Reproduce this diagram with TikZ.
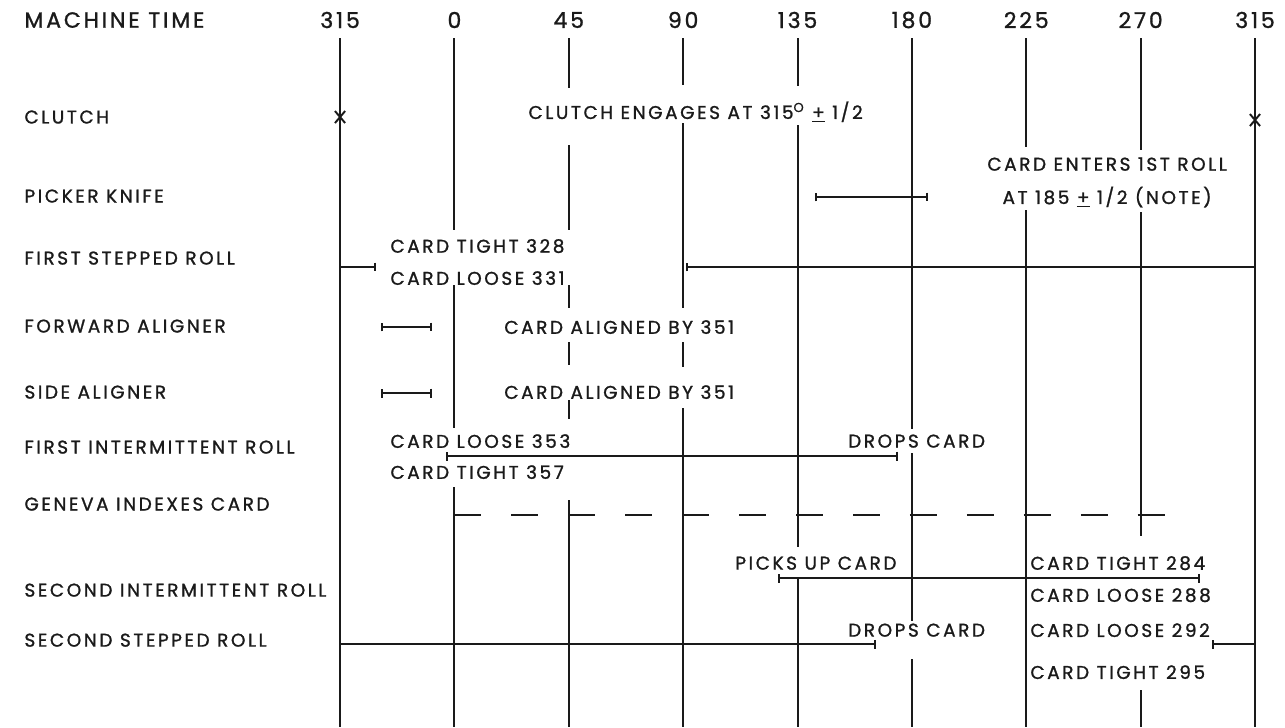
\documentclass[tikz,border=0pt]{standalone}
\usepackage{fontspec}
\setmainfont{Poppins}
\newfontfamily\chartfont[LetterSpace=14, FakeBold=1.2]{Poppins}
\newfontfamily\headfont[LetterSpace=13, FakeBold=1.2]{Poppins}
\usetikzlibrary{arrows.meta}
\definecolor{inkBlack}{HTML}{1A1A1A}

\begin{document}
\begin{tikzpicture}[
    x=0.050833cm, y=-0.02cm,
    rowlabel/.style={anchor=west, inner sep=0pt, text=inkBlack, font=\chartfont\fontsize{10.5}{12}\selectfont},
    note/.style={anchor=west, inner sep=0pt, text=inkBlack, font=\chartfont\fontsize{10.5}{12}\selectfont},
    hdr/.style={inner sep=0pt, text=inkBlack, font=\headfont\fontsize{12.5}{14}\selectfont},
    grid/.style={line width=1.1pt, inkBlack},
    bar/.style={line width=1.1pt, inkBlack},
    tick/.style={{Bar[width=5pt]}-{Bar[width=5pt]}},
]
    \useasboundingbox (-178.8,0) rectangle (326.8,727);

    % header
    \node[hdr, anchor=west] (mtime) at (-169.3,20) {MACHINE TIME};
    \foreach \a/\t [count=\i] in {-45/315, 0/0, 45/45, 90/90, 135/135, 180/180, 225/225, 270/270, 315/315}
        \node[hdr] (deg\i) at (\a,20) {\t};

    % time lines, broken where the notes sit
    \foreach \a/\segs in {
        -45/{38/727},
        0/{38/230,285/428,487/727},
        45/{38/88,145/230,285/308,342/365,400/419,500/727},
        90/{38/85,123/308,342/367,408/727},
        135/{38/86,125/547,577/727},
        180/{38/429,453/621,659/727},
        225/{38/147,210/727},
        270/{38/150,212/536,690/727},
        315/{38/727}}
    {
        \foreach \ya/\yb in \segs
            \draw[grid] (\a,\ya) -- (\a,\yb);
    }

    % row labels
    \node[rowlabel] (clutch) at (-169.3,117) {CLUTCH};
    \node[rowlabel] (picker) at (-169.3,196) {PICKER KNIFE};
    \node[rowlabel] (fsroll) at (-169.3,258) {FIRST STEPPED ROLL};
    \node[rowlabel] (faligner) at (-169.3,326) {FORWARD ALIGNER};
    \node[rowlabel] (saligner) at (-169.3,392) {SIDE ALIGNER};
    \node[rowlabel] (firoll) at (-169.3,447) {FIRST INTERMITTENT ROLL};
    \node[rowlabel] (geneva) at (-169.3,504) {GENEVA INDEXES CARD};
    \node[rowlabel] (siroll) at (-169.3,590) {SECOND INTERMITTENT ROLL};
    \node[rowlabel] (ssroll) at (-169.3,640) {SECOND STEPPED ROLL};

    % clutch
    \draw[grid] (-47,111) -- (-43,123) (-47,123) -- (-43,111);
    \draw[grid] (313,114) -- (317,126) (313,126) -- (317,114);
    \node[note, anchor=center] (engage) at (94.9,112) {CLUTCH ENGAGES AT 315\textsuperscript{O} \underline{+} 1/2};

    % picker knife
    \draw[bar, tick] (142,197) -- (186.5,197);
    \node[note, anchor=center] (enter) at (256.8,164) {CARD ENTERS 1ST ROLL};
    \node[note, anchor=center] (enterat) at (256.8,197) {AT 185 \underline{+} 1/2 (NOTE)};

    % first stepped roll
    \draw[bar, -{Bar[width=5pt]}] (-45,267) -- (-31,267);
    \draw[bar, {Bar[width=5pt]}-] (91,267) -- (315,267);
    \node[note] (tight328) at (-25.3,246) {CARD TIGHT 328};
    \node[note] (loose331) at (-25.3,278) {CARD LOOSE 331};

    % aligners
    \draw[bar, tick] (-29,327) -- (-9,327);
    \node[note] (falign) at (19.5,327) {CARD ALIGNED BY 351};
    \draw[bar, tick] (-29,393) -- (-9,393);
    \node[note] (salign) at (19.5,392) {CARD ALIGNED BY 351};

    % first intermittent roll
    \draw[bar, tick] (-3.3,456) -- (174.6,456);
    \node[note] (loose353) at (-25.3,441) {CARD LOOSE 353};
    \node[note] (tight357) at (-25.3,472) {CARD TIGHT 357};
    \node[note] (fidrops) at (154.8,441) {DROPS CARD};

    % geneva
    \draw[bar, dash pattern=on 15.3pt off 17.1pt] (0,515) -- (281,515);

    % second intermittent roll
    \draw[bar, tick] (127.3,578) -- (293.4,578);
    \node[note] (picks) at (110.4,563) {PICKS UP CARD};
    \node[note] (tight284) at (226.5,563) {CARD TIGHT 284};
    \node[note] (loose288) at (226.5,595) {CARD LOOSE 288};

    % second stepped roll
    \draw[bar, -{Bar[width=5pt]}] (-45,644) -- (165.8,644);
    \draw[bar, {Bar[width=5pt]}-] (298,644) -- (315,644);
    \node[note] (ssdrops) at (154.8,630) {DROPS CARD};
    \node[note] (loose292) at (226.5,630) {CARD LOOSE 292};
    \node[note] (tight295) at (226.5,672) {CARD TIGHT 295};
\end{tikzpicture}
\end{document}
